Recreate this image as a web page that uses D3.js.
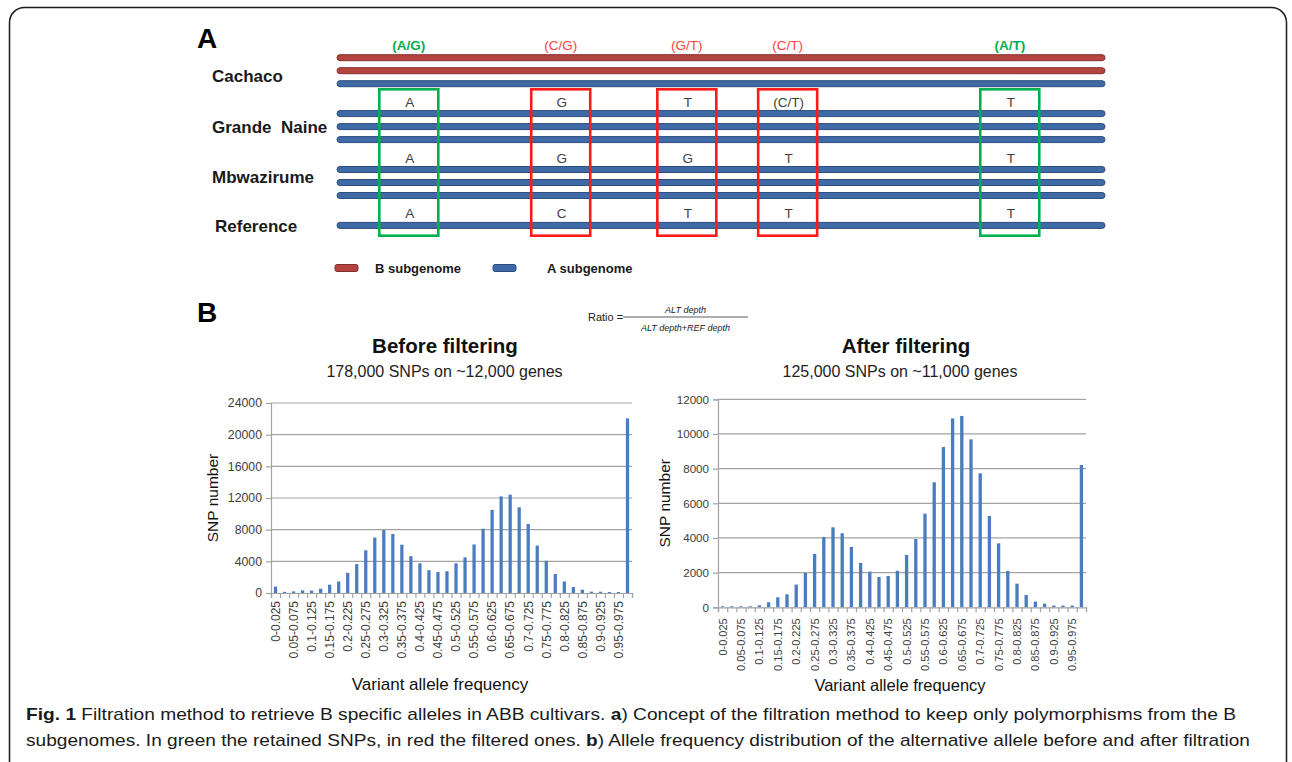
<!DOCTYPE html>
<html>
<head>
<meta charset="utf-8">
<script src="https://cdn.jsdelivr.net/npm/d3@7"></script>
<style>
  html, body { margin: 0; padding: 0; background: #fff; }
  svg { display: block; }
  text { font-family: "Liberation Sans", Arial, sans-serif; }
</style>
</head>
<body>
<svg id="fig" width="1292" height="762"></svg>
<script>
// ---- Panel A: cultivars, strands and SNP sites ----
const cultivars = ["Cachaco", "Grande  Naine", "Mbwazirume", "Reference"];
// subgenome of each strand, per cultivar
const strands = [["B", "B", "A"], ["A", "A", "A"], ["A", "A", "A"], ["A"]];
// SNP sites along the sequence (0-1000), their top label and whether kept
const sitePos = [93.5, 291.3, 455.5, 586.8, 876];
const siteLabels = ["(A/G)", "(C/G)", "(G/T)", "(C/T)", "(A/T)"];
const siteKept = [true, false, false, false, true];
// allele called in each non-Cachaco cultivar at each site
const alleles = [
  ["A", "G", "T", "(C/T)", "T"],   // Grande Naine
  ["A", "G", "G", "T", "T"],       // Mbwazirume
  ["A", "C", "T", "T", "T"]        // Reference
];
const legendItems = ["B subgenome", "A subgenome"];

// ---- Panel B: allele frequency histograms ----
const categories = ["0-0.025","0.025-0.05","0.05-0.075","0.075-0.1","0.1-0.125","0.125-0.15",
  "0.15-0.175","0.175-0.2","0.2-0.225","0.225-0.25","0.25-0.275","0.275-0.3","0.3-0.325",
  "0.325-0.35","0.35-0.375","0.375-0.4","0.4-0.425","0.425-0.45","0.45-0.475","0.475-0.5",
  "0.5-0.525","0.525-0.55","0.55-0.575","0.575-0.6","0.6-0.625","0.625-0.65","0.65-0.675",
  "0.675-0.7","0.7-0.725","0.725-0.75","0.75-0.775","0.775-0.8","0.8-0.825","0.825-0.85",
  "0.85-0.875","0.875-0.9","0.9-0.925","0.925-0.95","0.95-0.975","0.975-1"];
const beforeCounts = [800, 150, 200, 320, 300, 550, 1050, 1450, 2550, 3650, 5400, 7000, 7950,
  7450, 6100, 4650, 3750, 2880, 2650, 2750, 3750, 4500, 6130, 8120, 10500, 12200, 12420,
  10830, 8720, 5990, 4070, 2400, 1460, 760, 410, 170, 160, 120, 120, 22060];
const afterCounts = [60, 60, 60, 60, 115, 290, 580, 750, 1310, 1980, 3080, 4060, 4615, 4270,
  3480, 2560, 2060, 1750, 1810, 2110, 3020, 3940, 5400, 7210, 9250, 10900, 11040, 9690, 7730,
  5270, 3690, 2100, 1365, 710, 330, 210, 100, 100, 100, 8210];
const beforeTicks = [0, 4000, 8000, 12000, 16000, 20000, 24000];
const afterTicks = [0, 2000, 4000, 6000, 8000, 10000, 12000];

const svg = d3.select("#fig");

// rounded figure frame
svg.append("rect").attr("x", 9.5).attr("y", 7.5).attr("width", 1277).attr("height", 820)
  .attr("rx", 15).attr("fill", "none").attr("stroke", "#1a1a1a").attr("stroke-width", 1.5);

// panel letters
svg.append("text").attr("x", 197).attr("y", 48).text("A")
  .attr("font-size", 28).attr("font-weight", "bold").attr("fill", "#000");
svg.append("text").attr("x", 197).attr("y", 322).text("B")
  .attr("font-size", 28).attr("font-weight", "bold").attr("fill", "#000");

// ---------------- Panel A ----------------
const seqX = d3.scaleLinear().domain([0, 1000]).range([337, 1105]);
// vertical slots: 3 strands per cultivar, with a gap between cultivars
const slotY = d3.scaleLinear().domain([0, 1]).range([57.7, 70.7]);
const groupGap = 1.3;
const strandColor = { B: { fill: "#b3443f", stroke: "#86302d" }, A: { fill: "#3f6aa6", stroke: "#2c4e80" } };

const strandRows = [];
let slot = 0;
cultivars.forEach((c, gi) => {
  strands[gi].forEach((sg, si) => {
    strandRows.push({ group: gi, idx: si, sub: sg, y: slotY(slot) });
    slot += 1;
  });
  slot += groupGap;
});

const gA = svg.append("g");
gA.selectAll("rect.strand").data(strandRows).join("rect")
  .attr("class", "strand")
  .attr("x", seqX(0)).attr("width", seqX(1000) - seqX(0))
  .attr("y", d => d.y - 3).attr("height", 6).attr("rx", 3)
  .attr("fill", d => strandColor[d.sub].fill)
  .attr("stroke", d => strandColor[d.sub].stroke).attr("stroke-width", 1);

// cultivar names
const nameDy = [5, 0, -6, 1];
gA.selectAll("text.cult").data(cultivars).join("text")
  .attr("class", "cult")
  .attr("x", (d, i) => i === 3 ? 215 : 212)
  .attr("y", (d, i) => d3.mean(strandRows.filter(r => r.group === i), r => r.y) + nameDy[i] + 6)
  .attr("font-size", 17).attr("font-weight", "bold").attr("fill", "#1a1a1a")
  .style("white-space", "pre")
  .text(d => d);

// boxes around SNP sites
const boxHalf = 29.5;
const firstRowY = strandRows.filter(r => r.group === 0);
const boxTop = firstRowY[firstRowY.length - 1].y + 5.6;
const boxBottom = strandRows[strandRows.length - 1].y + 10.3;
const siteData = sitePos.map((p, i) => ({ p, label: siteLabels[i], kept: siteKept[i] }));
const green = "#00b04f", red = "#ff1a1a";

gA.selectAll("rect.site").data(siteData).join("rect")
  .attr("class", "site")
  .attr("x", d => seqX(d.p) - boxHalf).attr("width", boxHalf * 2)
  .attr("y", boxTop).attr("height", boxBottom - boxTop)
  .attr("fill", "none").attr("stroke", d => d.kept ? green : red).attr("stroke-width", 2.6);

gA.selectAll("text.siteLabel").data(siteData).join("text")
  .attr("class", "siteLabel")
  .attr("x", d => seqX(d.p)).attr("y", 50)
  .attr("text-anchor", "middle").attr("font-size", 13.5)
  .attr("font-weight", d => d.kept ? "bold" : "normal")
  .attr("fill", d => d.kept ? green : "#ff4040")
  .text(d => d.label);

// alleles above the first strand of each lower cultivar
alleles.forEach((row, ri) => {
  const firstY = strandRows.find(r => r.group === ri + 1).y;
  gA.selectAll("text.allele" + ri).data(row).join("text")
    .attr("x", (d, i) => seqX(sitePos[i]) + 1)
    .attr("y", firstY - 7)
    .attr("text-anchor", "middle").attr("font-size", 13.5).attr("fill", "#404040")
    .text(d => d);
});

// legend
const legendX = d3.scalePoint().domain(legendItems).range([335, 493]);
const leg = gA.selectAll("g.leg").data(legendItems).join("g").attr("class", "leg")
  .attr("transform", d => `translate(${legendX(d)},268)`);
leg.append("rect").attr("x", 0).attr("y", -3.5).attr("width", 23).attr("height", 7).attr("rx", 2)
  .attr("fill", (d, i) => i === 0 ? strandColor.B.fill : strandColor.A.fill)
  .attr("stroke", (d, i) => i === 0 ? strandColor.B.stroke : strandColor.A.stroke);
leg.append("text").attr("x", (d, i) => i === 0 ? 40 : 54).attr("y", 5)
  .attr("font-size", 13).attr("font-weight", "bold").attr("fill", "#1a1a1a").text(d => d);

// ---------------- Panel B ----------------
// ratio formula
const fx = svg.append("g");
fx.append("text").attr("x", 588).attr("y", 321).attr("font-size", 11).attr("fill", "#222").text("Ratio =");
fx.append("line").attr("x1", 623).attr("x2", 748).attr("y1", 317).attr("y2", 317)
  .attr("stroke", "#333").attr("stroke-width", 0.8);
fx.append("text").attr("x", 685.5).attr("y", 313).attr("text-anchor", "middle")
  .attr("font-family", "'Liberation Serif', 'DejaVu Serif', serif").attr("font-style", "italic")
  .attr("font-size", 9).attr("fill", "#222").text("ALT depth");
fx.append("text").attr("x", 685.5).attr("y", 331).attr("text-anchor", "middle")
  .attr("font-family", "'Liberation Serif', 'DejaVu Serif', serif").attr("font-style", "italic")
  .attr("font-size", 9).attr("fill", "#222").text("ALT depth+REF depth");

function histogram(opts) {
  const g = svg.append("g");
  const x = d3.scaleBand().domain(categories).range([opts.x0, opts.x1]).paddingInner(0.64).paddingOuter(0.32);
  const edge = d3.scaleLinear().domain([0, categories.length]).range([opts.x0, opts.x1]);
  const y = d3.scaleLinear().domain([0, d3.max(opts.ticks)]).range([opts.yb, opts.yt]);
  const grid = "#a3a3a3";

  // titles
  g.append("text").attr("x", opts.titleX).attr("y", 353).attr("text-anchor", "middle")
    .attr("font-size", 20.5).attr("font-weight", "bold").attr("fill", "#111").text(opts.title);
  g.append("text").attr("x", opts.subX).attr("y", 377).attr("text-anchor", "middle")
    .attr("font-size", 16).attr("fill", "#222").text(opts.subtitle);

  // gridlines
  g.selectAll("line.grid").data(opts.ticks.filter(t => t > 0)).join("line")
    .attr("x1", opts.x0).attr("x2", opts.x1)
    .attr("y1", d => y(d)).attr("y2", d => y(d))
    .attr("stroke", grid).attr("stroke-width", 1.2);

  // bars
  g.selectAll("rect.bar").data(opts.values).join("rect")
    .attr("x", (d, i) => x(categories[i])).attr("width", x.bandwidth())
    .attr("y", d => y(d)).attr("height", d => y(0) - y(d))
    .attr("fill", "#4a7cc0");

  // y axis
  const ya = g.append("g").attr("transform", `translate(${opts.x0},0)`)
    .call(d3.axisLeft(y).tickValues(opts.ticks).tickSize(5).tickPadding(4).tickFormat(d3.format("d")));
  ya.select(".domain").attr("stroke", grid).attr("stroke-width", 1.2);
  ya.selectAll(".tick line").attr("stroke", grid).attr("stroke-width", 1.2);
  ya.selectAll(".tick text").attr("font-size", opts.yFont).attr("fill", "#404040")
    .attr("font-family", "'Liberation Sans', Arial, sans-serif");

  // x axis: ticks on category edges
  const xa = g.append("g").attr("transform", `translate(0,${opts.yb})`)
    .call(d3.axisBottom(edge).tickValues(d3.range(categories.length + 1)).tickSize(5).tickFormat(""));
  xa.select(".domain").attr("stroke", grid).attr("stroke-width", 1.2);
  xa.selectAll(".tick line").attr("stroke", grid).attr("stroke-width", 1.2);

  // category labels (every other one)
  g.selectAll("text.cat").data(categories.filter((c, i) => i % 2 === 0)).join("text")
    .attr("class", "cat")
    .attr("transform", d => `translate(${x(d) + x.bandwidth() / 2 + opts.xFont * 0.36},${opts.yb + opts.labelGap}) rotate(-90)`)
    .attr("text-anchor", "end").attr("font-size", opts.xFont).attr("fill", "#404040")
    .text(d => d);

  // axis titles
  g.append("text")
    .attr("transform", `translate(${opts.yTitleX},${(opts.yt + opts.yb) / 2}) rotate(-90)`)
    .attr("text-anchor", "middle").attr("font-size", 15.5).attr("fill", "#111").text("SNP number");
  g.append("text").attr("x", opts.xTitleX).attr("y", opts.xTitleY).attr("text-anchor", "middle")
    .attr("font-size", opts.xTitleFont).attr("fill", "#111").text("Variant allele frequency");
}

histogram({
  values: beforeCounts, ticks: beforeTicks,
  x0: 271, x1: 632, yb: 593, yt: 403,
  title: "Before filtering", subtitle: "178,000 SNPs on ~12,000 genes", titleX: 445, subX: 444.5,
  yFont: 12.3, xFont: 12, labelGap: 8, yTitleX: 218, xTitleX: 440, xTitleY: 690, xTitleFont: 17
});
histogram({
  values: afterCounts, ticks: afterTicks,
  x0: 718, x1: 1086, yb: 607.3, yt: 399.3,
  title: "After filtering", subtitle: "125,000 SNPs on ~11,000 genes", titleX: 906, subX: 900,
  yFont: 11.6, xFont: 11, labelGap: 11, yTitleX: 670, xTitleX: 900, xTitleY: 691, xTitleFont: 16.5
});

// ---------------- caption ----------------
const capFont = "'Liberation Sans Narrow', 'DejaVu Sans Condensed', 'Liberation Sans', sans-serif";
const cap1 = svg.append("text").attr("x", 26).attr("y", 720).attr("font-size", 17)
  .attr("font-family", capFont).attr("fill", "#1a1a1a")
  .attr("textLength", 1210).attr("lengthAdjust", "spacingAndGlyphs");
cap1.append("tspan").attr("font-weight", "bold").text("Fig. 1");
cap1.append("tspan").text(" Filtration method to retrieve B specific alleles in ABB cultivars. ");
cap1.append("tspan").attr("font-weight", "bold").text("a");
cap1.append("tspan").text(") Concept of the filtration method to keep only polymorphisms from the B");

const cap2 = svg.append("text").attr("x", 26).attr("y", 746).attr("font-size", 17)
  .attr("font-family", capFont).attr("fill", "#1a1a1a")
  .attr("textLength", 1224).attr("lengthAdjust", "spacingAndGlyphs");
cap2.append("tspan").text("subgenomes. In green the retained SNPs, in red the filtered ones. ");
cap2.append("tspan").attr("font-weight", "bold").text("b");
cap2.append("tspan").text(") Allele frequency distribution of the alternative allele before and after filtration");
</script>
</body>
</html>
